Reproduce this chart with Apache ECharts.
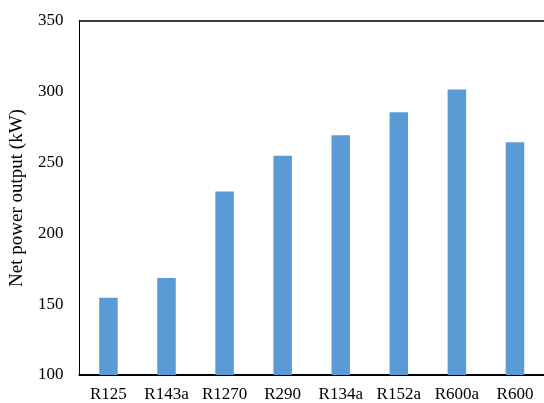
<!DOCTYPE html>
<html><head><meta charset="utf-8">
<script src="https://cdn.jsdelivr.net/npm/echarts@6/dist/echarts.min.js"></script>
<style>html,body{margin:0;padding:0;background:#fff}#c{width:544px;height:403px}</style>
</head><body><div id="c"></div>
<script>
const categories = ["R125","R143a","R1270","R290","R134a","R152a","R600a","R600"];
const netPower = [154.5, 168.5, 229.6, 254.8, 269.3, 285.6, 301.7, 264.3];
const yTicks = {min: 100, max: 350, interval: 50};
const font = "Liberation Serif";
const chart = echarts.init(document.getElementById('c'));
chart.setOption({
  animation: false,
  grid: {left: 78, right: -2, top: 21, bottom: 28, containLabel: false},
  xAxis: [{
    type: 'category', data: categories,
    axisLine: {lineStyle: {color: '#000', width: 2}},
    axisTick: {show: false},
    axisLabel: {color: '#000', fontFamily: font, fontSize: 17, margin: 11, interval: 0, hideOverlap: false}
  }, {
    type: 'category', data: categories, position: 'top',
    axisLine: {show: true, lineStyle: {color: '#000', width: 1.5}},
    axisTick: {show: false}, axisLabel: {show: false}
  }],
  yAxis: {
    type: 'value', min: yTicks.min, max: yTicks.max, interval: yTicks.interval,
    name: 'Net power output (kW)', nameLocation: 'middle', nameGap: 45, nameRotate: 90,
    nameTextStyle: {color: '#000', fontFamily: font, fontSize: 19},
    axisLine: {show: true, lineStyle: {color: '#000', width: 1}},
    axisTick: {show: false},
    splitLine: {show: false},
    axisLabel: {color: '#000', fontFamily: font, fontSize: 17, margin: 16}
  },
  series: [{
    type: 'bar', data: netPower, barWidth: 18.5,
    itemStyle: {color: '#5B9BD5'}
  }]
});
</script></body></html>
